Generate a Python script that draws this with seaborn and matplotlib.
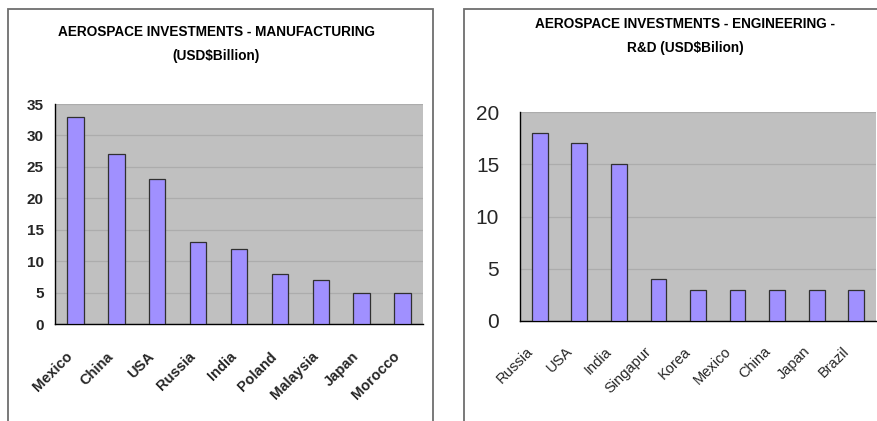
import matplotlib
matplotlib.use('Agg')
import matplotlib.pyplot as plt
import matplotlib.transforms as mtransforms
import seaborn as sns
import numpy as np
from matplotlib.patches import Rectangle

# --- dados ---
manuf_countries = ['Mexico', 'China', 'USA', 'Russia', 'India', 'Poland', 'Malaysia', 'Japan', 'Morocco']
manuf_values = [33, 27, 23, 13, 12, 8, 7, 5, 5]

eng_countries = ['Russia', 'USA', 'India', 'Singapur', 'Korea', 'Mexico', 'China', 'Japan', 'Brazil']
eng_values = [18, 17, 15, 4, 3, 3, 3, 3, 3]

manuf_title = ['AEROSPACE INVESTMENTS - MANUFACTURING', '(USD$Billion)']
eng_title = ['AEROSPACE INVESTMENTS - ENGINEERING -', 'R&D (USD$Bilion)']

sns.set_style('white')
plt.rcParams['font.family'] = ['Liberation Sans', 'DejaVu Sans']

BAR = '#a090ff'
BG = '#c0c0c0'
W, H = 877, 421

fig = plt.figure(figsize=(W / 100, H / 100), dpi=100)

# molduras dos dois paineis
fig.patches.append(Rectangle((8 / W, -0.1), (433 - 8) / W, 1.1 - 9 / H,
                             transform=fig.transFigure, fill=False,
                             edgecolor='#6e6e6e', linewidth=1.3))
fig.patches.append(Rectangle((464 / W, -0.1), 0.6, 1.1 - 9 / H,
                             transform=fig.transFigure, fill=False,
                             edgecolor='#6e6e6e', linewidth=1.3))


def painel(rect, cats, vals, ymax, title, tx, ty, bold, ysize, ytick_len, ypad, shift):
    ax = fig.add_axes(rect)
    sns.barplot(x=cats, y=vals, color=BAR, width=0.4, saturation=1,
                edgecolor='#303030', linewidth=0.9, ax=ax, zorder=3)
    ax.set_facecolor(BG)
    ax.set_xlim(-0.5, len(cats) - 0.5)
    ax.set_ylim(0, ymax)
    ax.set_yticks(np.arange(0, ymax + 1, 5))
    ax.yaxis.grid(True, color='#acacac', linewidth=0.9, zorder=0)
    ax.set_axisbelow(True)
    for s in ['top', 'right']:
        ax.spines[s].set_visible(False)
    for s in ['left', 'bottom']:
        ax.spines[s].set_color('black')
        ax.spines[s].set_linewidth(1.0)
    wt = 'bold' if bold else 'normal'
    ax.set_xticks(np.arange(len(cats) + 1) - 0.5, minor=True)
    ax.tick_params(axis='x', which='minor', length=5, width=1, color='black', direction='out')
    ax.tick_params(axis='x', which='major', length=0, pad=6)
    ax.tick_params(axis='y', length=ytick_len, width=1, color='black', direction='out', pad=ypad)
    ax.set_xticks(np.arange(len(cats)))
    ax.set_xticklabels(cats, rotation=45, ha='right', rotation_mode='anchor',
                       fontsize=10.5, fontweight=wt)
    # desloca os rotulos inclinados para baixo/esquerda como no original
    off = mtransforms.ScaledTranslation(shift[0] / 100, shift[1] / 100, fig.dpi_scale_trans)
    for t in ax.get_xticklabels():
        t.set_transform(t.get_transform() + off)
    for t in ax.get_yticklabels():
        t.set_fontsize(ysize)
        t.set_fontweight(wt)
    for i, linha in enumerate(title):
        fig.text(tx / W, 1 - ty[i] / H, linha, ha='center', va='center',
                 fontsize=9.8, fontweight='bold', color='black')
    return ax


painel([55 / W, 1 - 324 / H, (423 - 55) / W, (324 - 104) / H],
       manuf_countries, manuf_values, 35, manuf_title, 216, (32, 56), True, 11, 6, 2, (-10, -17))
painel([520 / W, 1 - 321 / H, (876 - 520) / W, (321 - 112) / H],
       eng_countries, eng_values, 20, eng_title, 685, (24, 48), False, 15, 7, 8, (-14, -15))

plt.savefig('out.png', dpi=100)
plt.close()
